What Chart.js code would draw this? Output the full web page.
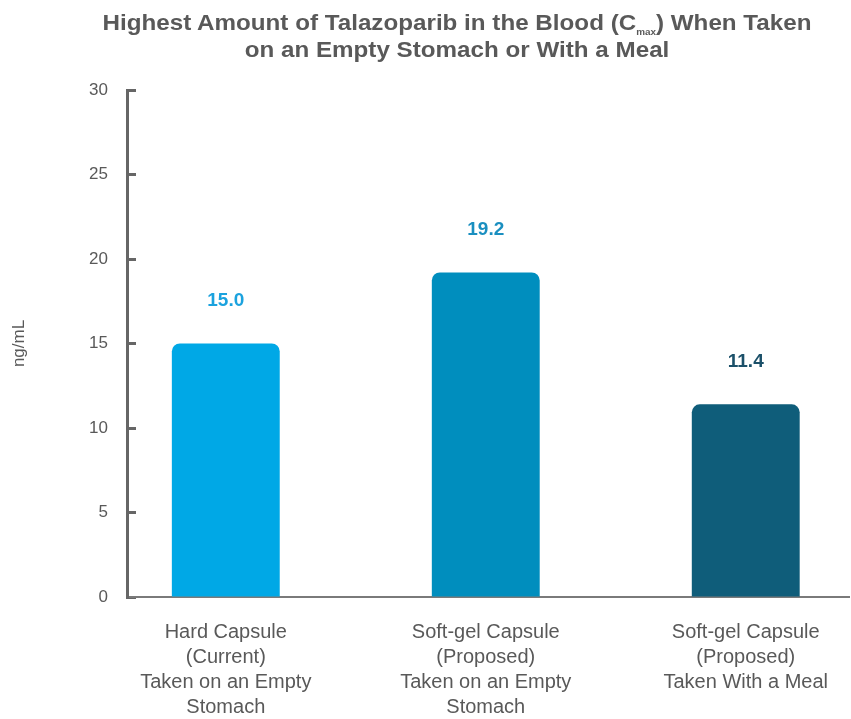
<!DOCTYPE html>
<html>
<head>
<meta charset="utf-8">
<script src="https://cdn.jsdelivr.net/npm/chart.js@4.4.0/dist/chart.umd.min.js"></script>
<style>
  html, body { margin: 0; padding: 0; background: #fff; overflow: hidden; }
  #wrap { position: relative; width: 851px; height: 719px; }
  canvas { position: absolute; left: 0; top: 0; }
  #title {
    position: absolute; left: 0; top: 0; width: 914px;
    text-align: center; color: #595959;
    font: bold 22px "Liberation Sans", Arial, sans-serif; line-height: 27px;
    transform: scaleX(1.1); transform-origin: 457px 0;
  }
  #title div { height: 27px; }
  #title .l1 { padding-top: 9px; }
  #title sub { font-size: 9px; line-height: 0; vertical-align: -5px; }
</style>
</head>
<body>
<div id="wrap">
  <canvas id="chart" width="851" height="719"></canvas>
  <div id="title">
    <div class="l1">Highest Amount of Talazoparib in the Blood (C<sub>max</sub>) When Taken</div>
    <div>on an Empty Stomach or With a Meal</div>
  </div>
</div>
<script>
const categories = [
  ['Hard Capsule', '(Current)', 'Taken on an Empty', 'Stomach'],
  ['Soft-gel Capsule', '(Proposed)', 'Taken on an Empty', 'Stomach'],
  ['Soft-gel Capsule', '(Proposed)', 'Taken With a Meal']
]
const cmax = [15.0, 19.2, 11.4]
const yTicks = [0, 5, 10, 15, 20, 25, 30]
const barColors = ['#00A8E6', '#008EBE', '#0F5D7A']
const labelColors = ['#1BA2DE', '#1A8FC0', '#1B5069']

const font = '"Liberation Sans", Arial, sans-serif'

// value over each bar, placed from the bar element itself
const barLabels = {
  id: 'barLabels',
  afterDatasetsDraw(chart) {
    const ctx = chart.ctx
    chart.getDatasetMeta(0).data.forEach((bar, i) => {
      ctx.save()
      ctx.font = 'bold 19px ' + font
      ctx.fillStyle = labelColors[i]
      ctx.textAlign = 'center'
      ctx.textBaseline = 'middle'
      ctx.fillText(cmax[i].toFixed(1), bar.x, bar.y - 43)
      ctx.restore()
    })
  }
}

new Chart(document.getElementById('chart'), {
  type: 'bar',
  data: {
    datasets: [{
      data: cmax.map((v, i) => ({x: i, y: v})),
      backgroundColor: barColors,
      borderRadius: {topLeft: 8, topRight: 8, bottomLeft: 0, bottomRight: 0},
      borderSkipped: 'start',
      categoryPercentage: 1,
      barPercentage: 0.415
    }]
  },
  options: {
    responsive: false,
    animation: false,
    layout: {padding: {top: 90, right: 0, bottom: 0, left: 0}},
    plugins: {legend: {display: false}, tooltip: {enabled: false}},
    scales: {
      x: {
        type: 'linear',
        offset: false,
        min: -0.38,
        max: 2.4,
        afterBuildTicks: s => { s.ticks = categories.map((c, i) => ({value: i})) },
        afterFit: s => { s.height = 122 },
        grid: {display: false, drawTicks: false},
        border: {display: true, color: '#7a7a7a', width: 2},
        ticks: {
          autoSkip: false,
          maxRotation: 0,
          padding: 23,
          color: '#595959',
          font: {family: font, size: 20, lineHeight: 1.25},
          callback: v => categories[v]
        }
      },
      y: {
        min: 0,
        max: 30,
        afterBuildTicks: s => { s.ticks = yTicks.map(v => ({value: v})) },
        afterFit: s => { s.width = 127 },
        grid: {drawOnChartArea: false, drawTicks: true, tickLength: -9, tickWidth: 3, tickColor: '#666'},
        border: {color: '#666', width: 3},
        ticks: {padding: 28, color: '#595959', font: {family: font, size: 17}},
        title: {display: true, text: 'ng/mL', color: '#595959', font: {family: font, size: 17}, padding: {top: 9}}
      }
    }
  },
  plugins: [barLabels]
})
</script>
</body>
</html>
